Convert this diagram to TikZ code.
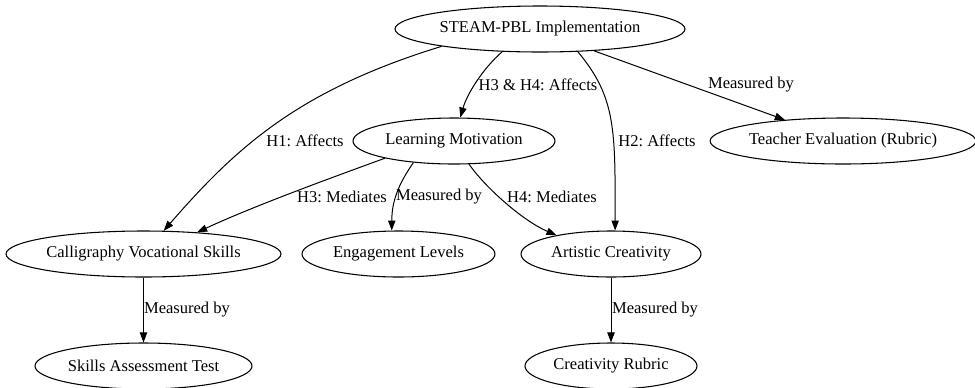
\documentclass[tikz,border=0pt]{standalone}
\usepackage{fontspec}
\setmainfont{Liberation Serif}
\frenchspacing
\usetikzlibrary{shapes.geometric,arrows.meta}

\begin{document}
\begin{tikzpicture}[x=0.75pt,y=0.75pt,
  concept/.style={ellipse,draw,line width=0.8pt,inner sep=0pt,minimum height=34.5pt,font=\fontsize{12.4}{14}\selectfont},
  link/.style={line width=0.75pt,-{Triangle[length=7.5pt,width=5.5pt]}},
  tag/.style={inner sep=0pt,font=\fontsize{12.4}{14}\selectfont}]
\useasboundingbox (0,0) rectangle (975,-387);

% Concepts - name/x/y/width/text
\foreach \name/\x/\y/\w/\txt in {
    steam/540/29/290/STEAM-PBL Implementation,
    lm/454/141/202/Learning Motivation,
    teach/843/141/262/Teacher Evaluation (Rubric),
    callig/143.5/254/273/Calligraphy Vocational Skills,
    engage/398.5/254/193/Engagement Levels,
    artist/611/254/180/Artistic Creativity,
    skills/143.5/366/217/Skills Assessment Test,
    rubric/611/366/172/Creativity Rubric} {
    \node[concept,minimum width=\w*0.75pt] (\name) at (\x,-\y) {\txt};
}

% Links from STEAM-PBL
\draw[link] (steam.190.7) .. controls +(197:150) and +(49:110) .. (callig.49.5);
\draw[link] (steam.211) .. controls +(221:25) and +(74:25) .. (lm.75);
\draw[link] (steam.329) .. controls +(310:60) and +(90:100) .. (artist.80);
\draw[link] (steam.338) -- (teach.160.4);

% Links from motivation
\draw[link] (lm.194.4) .. controls +(200:60) and +(25:60) .. (callig.22.5);
\draw[link] (lm.208.5) .. controls +(235:25) and +(90:30) .. (engage.106);
\draw[link] (lm.303.5) .. controls +(305:30) and +(157:35) .. (artist.161.2);

% Measures
\draw[link] (callig) -- (skills);
\draw[link] (artist) -- (rubric);

% Labels
\node[tag] (h1) at (305,-141) {H1: Affects};
\node[tag] (h34) at (538,-85) {H3 \& H4: Affects};
\node[tag] (h2) at (657,-141) {H2: Affects};
\node[tag] (mteach) at (751,-85) {Measured by};
\node[tag] (h3) at (342,-197) {H3: Mediates};
\node[tag] (mengage) at (439,-197) {Measured by};
\node[tag] (h4) at (552,-197) {H4: Mediates};
\node[tag] (mskills) at (187,-310) {Measured by};
\node[tag] (mrubric) at (655,-310) {Measured by};
\end{tikzpicture}
\end{document}
